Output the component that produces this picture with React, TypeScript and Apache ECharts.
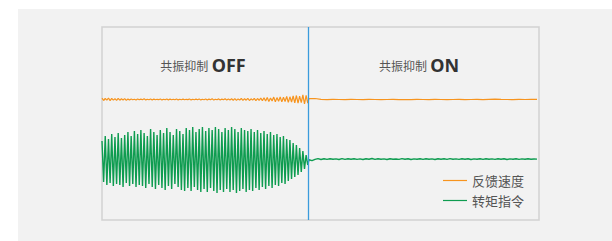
import React, { useEffect, useRef } from "react";
import * as echarts from "echarts";

// time axis (arbitrary units), switch point where resonance suppression turns ON
const T_MAX = 437;
const SWITCH_T = 206.6;
const OFF_STEP = 1.62;
const ON_START = 207;
const TORQUE_ON_STEP = 3;
const SPEED_ON_STEP = 6;

const titles = [
  { label: "共振抑制", state: "OFF" },
  { label: "共振抑制", state: "ON" },
];
const seriesNames = ["反馈速度", "转矩指令"];

// feedback speed, resonance suppression OFF
const speedOff = [
  121.8, 119.5, 121.5, 119.8, 122.0, 119.4, 121.6, 119.9, 121.3, 119.6, 121.7, 119.8, 121.2, 120.0, 121.4, 119.7,
  120.9, 120.1, 121.0, 120.2, 120.8, 120.0, 121.1, 120.2, 120.9, 120.3, 121.2, 120.1, 120.8, 120.2, 121.0, 120.0,
  120.9, 120.2, 120.7, 120.3, 121.0, 120.1, 120.8, 120.2, 121.1, 120.0, 120.9, 120.3, 120.8, 120.2, 121.0, 120.1,
  120.8, 120.3, 120.9, 120.2, 120.7, 120.4, 121.0, 120.1, 120.8, 120.3, 120.9, 120.2, 121.1, 120.1, 120.8, 120.3,
  121.0, 120.0, 120.9, 120.2, 121.2, 119.9, 120.8, 120.3, 121.1, 120.0, 120.9, 120.2, 121.3, 119.9, 121.0, 120.1,
  121.2, 119.8, 121.4, 119.7, 121.1, 120.0, 121.5, 119.6, 121.3, 119.8, 121.6, 119.5, 121.2, 119.9, 121.7, 119.4,
  121.5, 119.6, 121.8, 119.3,
  122.2, 119.0, 122.6, 118.6, 122.0, 119.1, 122.9, 118.3, 122.4, 118.8, 123.0, 118.1, 122.7, 118.5,
  123.5, 117.6, 123.2, 118.0, 124.0, 117.2, 124.5, 116.8, 123.8, 117.4, 125.2, 116.0, 124.6, 117.0,
];

// feedback speed, resonance suppression ON
const speedOn = [
  121.4, 121.5, 120.6, 120.4, 120.6, 120.5, 120.3, 120.6, 120.5, 120.4, 120.6, 120.5, 120.3, 120.5, 120.6, 120.4,
  120.5, 120.3, 120.6, 120.5, 120.4, 120.6, 120.5, 120.3, 120.5, 120.7, 120.4, 120.5, 120.6, 120.4, 120.7, 120.8,
  120.6, 120.5, 120.4, 120.6, 120.5, 120.7, 120.6,
];

// torque command, resonance suppression OFF
const torqueOff = [
  79, 38, 84, 35, 81, 37, 86, 34, 83, 36, 87, 35, 82, 33, 85, 37, 88, 34, 84, 36,
  89, 33, 86, 35, 90, 34, 87, 32, 84, 36, 91, 33, 88, 31, 85, 35, 90, 32, 87, 30,
  92, 34, 88, 31, 85, 36, 91, 33, 89, 30, 86, 29, 92, 32, 90, 29, 93, 33, 88, 30,
  91, 28, 93, 31, 89, 28, 92, 32, 90, 29, 93, 27, 91, 30, 88, 28, 92, 31, 90, 28,
  93, 30, 91, 27, 88, 29, 92, 31, 90, 28, 89, 30, 91, 29, 88, 32, 90, 30, 87, 33,
  89, 31, 86, 34, 88, 32, 85, 35, 86, 34, 83, 37, 84, 36, 81, 39, 80, 41, 77, 43,
  75, 45, 72, 48, 69, 51, 65, 55,
];

// torque command, resonance suppression ON
const torqueOn = [
  60.2, 59.4, 60.6, 61.4, 60.5, 61.2, 60.6, 61.3, 60.7, 61.1, 60.5, 61.4, 60.6, 61.2, 60.8, 61.3, 60.6, 61.1, 60.5, 61.2,
  60.7, 61.5, 60.6, 61.2, 60.8, 61.1, 60.5, 61.3, 60.7, 61.0, 60.6, 61.4, 60.7, 61.2, 60.5, 61.1, 60.8, 61.3, 60.6, 61.2,
  60.7, 61.1, 60.5, 61.3, 60.8, 61.2, 60.6, 61.4, 60.7, 61.1, 60.6, 61.2, 60.8, 61.3, 60.5, 61.1, 60.7, 61.2, 60.6, 61.3,
  60.8, 61.1, 60.6, 61.2, 60.7, 61.3, 60.5, 61.1, 60.8, 61.2, 60.6, 61.1, 60.7, 61.2, 60.8, 61.0, 60.9,
];

const ORANGE = "#f7941e";
const GREEN = "#0e9c50";
const BLUE = "#3a9bdc";
const FONT = "'Noto Sans CJK SC', 'Noto Sans', sans-serif";

function build(off: number[], on: number[], onStep: number) {
  return [
    ...off.map((v, i) => [i * OFF_STEP, v]),
    ...on.map((v, i) => [ON_START + i * onStep, v]),
  ];
}

export default function App() {
  const ref = useRef<HTMLDivElement>(null);
  useEffect(() => {
    if (!ref.current) return;
    const chart = echarts.init(ref.current, undefined, { renderer: "svg" });
    const titleText = (t: { label: string; state: string }) => `{a|${t.label}} {b|${t.state}}`;
    const rich = {
      a: { fontSize: 12, fill: "#555", fontFamily: FONT, fontWeight: "normal" },
      b: { fontSize: 18, fontWeight: "bold", fill: "#333", fontFamily: "'Noto Sans', sans-serif" },
    };
    chart.setOption({
      animation: false,
      backgroundColor: "#ffffff",
      graphic: [
        {
          type: "rect",
          z: -10,
          shape: { x: 18, y: 9, width: 594, height: 232 },
          style: { fill: "#f2f2f2" },
          silent: true,
        },
        {
          type: "text",
          x: 203,
          y: 65,
          style: { text: titleText(titles[0]), rich, fill: "#555", textAlign: "center", textVerticalAlign: "middle" },
        },
        {
          type: "text",
          x: 419,
          y: 65,
          style: { text: titleText(titles[1]), rich, fill: "#555", textAlign: "center", textVerticalAlign: "middle" },
        },
      ],
      grid: {
        left: 102,
        top: 27,
        right: 73,
        bottom: 21,
        show: true,
        borderColor: "#d2d2d2",
        borderWidth: 1.5,
        backgroundColor: "#f2f2f2",
      },
      xAxis: { type: "value", min: 0, max: T_MAX, show: false },
      yAxis: { type: "value", min: 0, max: 193, show: false },
      legend: {
        orient: "vertical",
        left: 438,
        top: 169,
        itemWidth: 24,
        itemHeight: 1.2,
        itemGap: 7,
        icon: "rect",
        textStyle: { fontSize: 13, color: "#555", fontFamily: FONT },
        data: seriesNames,
      },
      series: [
        {
          name: seriesNames[0],
          type: "line",
          data: build(speedOff, speedOn, SPEED_ON_STEP),
          symbol: "none",
          lineStyle: { color: ORANGE, width: 1.2 },
          itemStyle: { color: ORANGE },
          z: 3,
        },
        {
          name: seriesNames[1],
          type: "line",
          data: build(torqueOff, torqueOn, TORQUE_ON_STEP),
          symbol: "none",
          lineStyle: { color: GREEN, width: 1.4 },
          itemStyle: { color: GREEN },
          z: 2,
          markLine: {
            silent: true,
            symbol: ["none", "none"],
            label: { show: false },
            lineStyle: { color: BLUE, width: 1.3, type: "solid" },
            data: [{ xAxis: SWITCH_T }],
          },
        },
      ],
    });
    return () => chart.dispose();
  }, []);
  return (
    <div
      ref={ref}
      style={{ position: "fixed", left: 0, top: 0, width: 612, height: 241 }}
    />
  );
}
